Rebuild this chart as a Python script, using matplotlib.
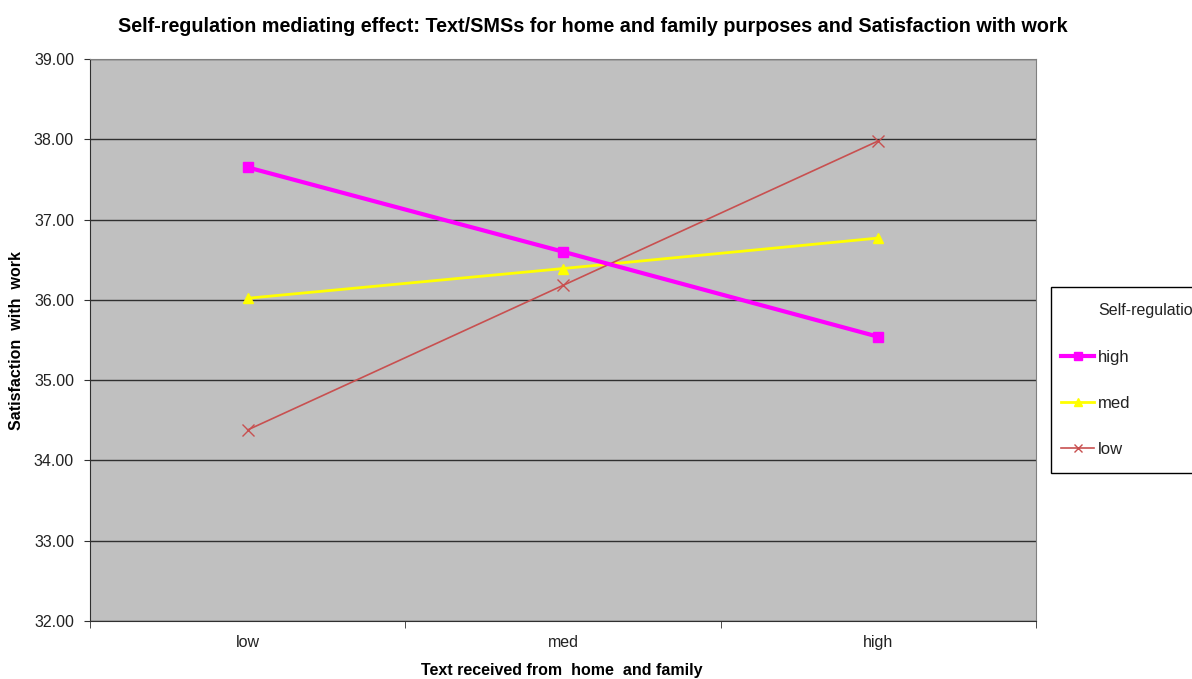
import matplotlib
matplotlib.use("Agg")
import matplotlib.pyplot as plt
from matplotlib.patches import Rectangle
from matplotlib.ticker import FixedLocator, FormatStrFormatter

plt.rcParams['font.family'] = ['Liberation Sans', 'DejaVu Sans']

# Data
categories = ["low", "med", "high"]
high_values = [37.65, 36.60, 35.54]
med_values = [36.02, 36.39, 36.77]
low_values = [34.38, 36.18, 37.98]
series_names = ["high", "med", "low"]

W, H = 1192, 679
fig = plt.figure(figsize=(W / 100, H / 100), dpi=100)
ax = fig.add_axes([90 / W, 1 - 621 / H, 946 / W, 562 / H])
ax.set_facecolor('#c0c0c0')

x = list(range(len(categories)))
ax.plot(x, high_values, color='#ff00ff', lw=3, marker='s', ms=7,
        markeredgecolor='#ff00ff', label=series_names[0], zorder=4)
ax.plot(x, med_values, color='#ffff00', lw=2, marker='^', ms=7,
        markeredgecolor='#ffff00', label=series_names[1], zorder=3)
ax.plot(x, low_values, color='#c85050', lw=1.2, marker='x', ms=8,
        markeredgewidth=1.0, label=series_names[2], zorder=3)

ax.set_xlim(-0.5, len(categories) - 0.5)
ax.set_ylim(32, 39)
ax.yaxis.set_major_locator(FixedLocator([32, 33, 34, 35, 36, 37, 38, 39]))
ax.yaxis.set_major_formatter(FormatStrFormatter('%.2f'))
ax.grid(axis='y', color='#303030', lw=1.0)
ax.set_axisbelow(True)

ax.set_xticks(x)
ax.set_xticklabels(categories)
ax.set_xticks([-0.5, 0.5, 1.5, 2.5], minor=True)
ax.tick_params(axis='x', which='major', length=0, pad=10, labelsize=11.5,
               labelcolor='#222222')
ax.tick_params(axis='x', which='minor', length=5, direction='out', color='#303030')
ax.tick_params(axis='y', length=4.5, direction='out', labelsize=11.5,
               color='#303030', pad=7, labelcolor='#222222')

for side in ['left', 'bottom']:
    ax.spines[side].set_color('#303030')
for side in ['top', 'right']:
    ax.spines[side].set_color('#808080')

ax.set_xlabel("Text received from  home  and family", fontsize=11.5,
              fontweight='bold')
ax.xaxis.set_label_coords((562 - 90) / 946, (621 - 670) / 562)
ax.xaxis.label.set_va('center')
ax.set_ylabel("Satisfaction  with  work", fontsize=11.5, fontweight='bold')
ax.yaxis.set_label_coords((17 - 90) / 946, 0.5)
ax.yaxis.label.set_va('center')

fig.text(0.497, 1 - 27 / H,
         "Self-regulation mediating effect: Text/SMSs for home and family purposes and Satisfaction with work",
         ha='center', va='center', fontsize=14.2, fontweight='bold')

# Legend: framed box with its title, partly running off the right edge
box_left, box_top, box_bottom = 1051, 287, 473
fig.patches.append(Rectangle((box_left / W, 1 - box_bottom / H),
                             (W + 20 - box_left) / W, (box_bottom - box_top) / H,
                             transform=fig.transFigure, facecolor='white',
                             edgecolor='black', lw=1.0, clip_on=False))
fig.text(1098 / W, 1 - 311 / H, "Self-regulation", ha='left', va='center',
         fontsize=11.5, color='#222222')
handles, labels = ax.get_legend_handles_labels()
leg = fig.legend(handles, labels, loc='upper left',
                 bbox_to_anchor=(1061 / W, 1 - 350 / H),
                 frameon=False, fontsize=12, labelspacing=1.87,
                 handlelength=2.0, handletextpad=0.2, borderpad=0,
                 borderaxespad=0, markerscale=0.75)
for t in leg.get_texts():
    t.set_color('#222222')

fig.savefig("out.png", dpi=100, facecolor='white')
